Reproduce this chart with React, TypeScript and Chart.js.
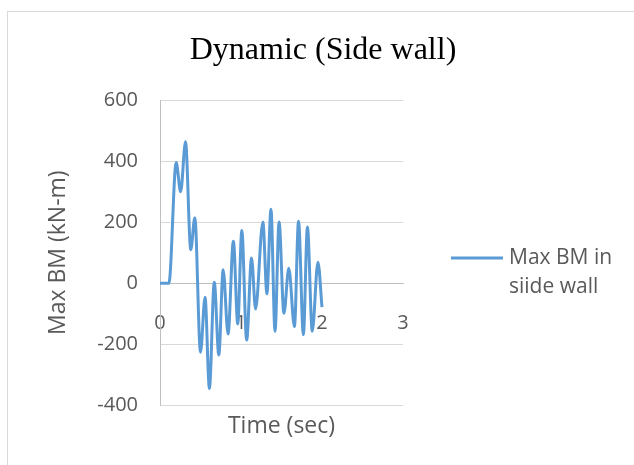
import React, { useEffect, useRef } from "react";
import { Chart, registerables } from "chart.js";

Chart.register(...registerables);

const chartTitle = "Dynamic (Side wall)";
const xTitle = "Time (sec)";
const yTitle = "Max BM (kN-m)";
const legendLines = ["Max BM in", "siide wall"];

const timeValues = [
  0, 0.05, 0.11, 0.2, 0.255, 0.315, 0.38, 0.43, 0.5, 0.556, 0.61, 0.67, 0.726,
  0.78, 0.84, 0.906, 0.96, 1.01, 1.07, 1.13, 1.18, 1.27, 1.32, 1.37, 1.42,
  1.47, 1.53, 1.59, 1.66, 1.71, 1.77, 1.82, 1.88, 1.95, 2.0,
];
const bmValues = [
  0, 0, 0, 396, 300, 464, 110, 215, -227, -46, -346, 3, -236, 44, -167, 138,
  -134, 173, -187, 83, -85, 201, -35, 243, -158, 201, -99, 49, -143, 203, -169,
  184, -158, 69, -79,
];

const xMin = 0;
const xMax = 3;
const xStep = 1;
const yMin = -400;
const yMax = 600;
const yStep = 200;

const LINE_COLOR = "#5b9bd5";
const TEXT_COLOR = "#595959";
const SANS = "'Open Sans', 'Liberation Sans', sans-serif";

export default function App() {
  const ref = useRef<HTMLCanvasElement | null>(null);

  useEffect(() => {
    document.body.style.overflow = "hidden";
    const canvas = ref.current;
    if (!canvas) return;

    const legendPlugin = {
      id: "sideLegend",
      afterDraw(chart: any) {
        const ctx = chart.ctx;
        const area = chart.chartArea;
        ctx.save();
        const lx = area.right + 48;
        const ly = 258;
        ctx.strokeStyle = LINE_COLOR;
        ctx.lineWidth = 3;
        ctx.beginPath();
        ctx.moveTo(lx, ly);
        ctx.lineTo(lx + 52, ly);
        ctx.stroke();
        ctx.fillStyle = TEXT_COLOR;
        ctx.font = `21px ${SANS}`;
        ctx.textBaseline = "middle";
        ctx.textAlign = "left";
        legendLines.forEach((t, i) => {
          ctx.fillText(t, lx + 58, ly + i * 29);
        });
        ctx.restore();
      },
    };

    const chart = new Chart(canvas, {
      type: "line",
      data: {
        datasets: [
          {
            label: legendLines.join(" "),
            data: timeValues.map((t, i) => ({ x: t, y: bmValues[i] })),
            borderColor: LINE_COLOR,
            backgroundColor: LINE_COLOR,
            borderWidth: 3,
            pointRadius: 0,
            cubicInterpolationMode: "monotone",
            fill: false,
          },
        ],
      },
      options: {
        responsive: false,
        animation: false,
        layout: { padding: { left: 12, right: 0, top: 0, bottom: 60 } },
        plugins: {
          legend: { display: false },
          tooltip: { enabled: false },
          title: {
            display: true,
            text: chartTitle,
            color: "#000000",
            font: { family: "'Liberation Serif', 'Times New Roman', serif", size: 32, weight: "normal" },
            padding: { top: 31, bottom: 31 },
          },
        },
        scales: {
          x: {
            type: "linear",
            min: xMin,
            max: xMax,
            position: { y: 0 } as any,
            ticks: {
              stepSize: xStep,
              color: TEXT_COLOR,
              font: { family: SANS, size: 20 },
              padding: 28,
              maxRotation: 0,
            },
            grid: { display: false, drawTicks: false },
            border: { display: true, color: "#bfbfbf", width: 1 },
            title: {
              display: true,
              text: xTitle,
              color: TEXT_COLOR,
              font: { family: SANS, size: 23 },
              padding: { top: 0, bottom: -97 },
            },
            afterFit(scale: any) {
              scale.height = 60;
            },
          },
          y: {
            type: "linear",
            min: yMin,
            max: yMax,
            ticks: {
              stepSize: yStep,
              color: TEXT_COLOR,
              font: { family: SANS, size: 20 },
              padding: 22,
            },
            grid: { color: "#d9d9d9", drawTicks: false },
            border: { display: true, color: "#bfbfbf", width: 1 },
            title: {
              display: true,
              text: yTitle,
              color: TEXT_COLOR,
              font: { family: SANS, size: 23 },
              padding: { top: 33, bottom: 0 },
            },
            afterFit(scale: any) {
              scale.width = 148;
            },
          },
          legendSpace: {
            type: "linear",
            position: "right",
            display: true,
            ticks: { display: false },
            grid: { display: false, drawTicks: false },
            border: { display: false },
            afterFit(scale: any) {
              scale.width = 231;
            },
          },
        },
      },
      plugins: [legendPlugin],
    });

    return () => chart.destroy();
  }, []);

  return (
    <>
      <div
        style={{
          position: "fixed",
          left: 7,
          top: 11,
          width: 700,
          height: 500,
          borderLeft: "1px solid #d9d9d9",
          borderTop: "1px solid #d9d9d9",
          background: "#ffffff",
        }}
      />
      <div style={{ position: "fixed", left: 0, top: 0, width: 634, height: 465 }}>
        <canvas ref={ref} width={634} height={465} style={{ display: "block" }} />
      </div>
    </>
  );
}
